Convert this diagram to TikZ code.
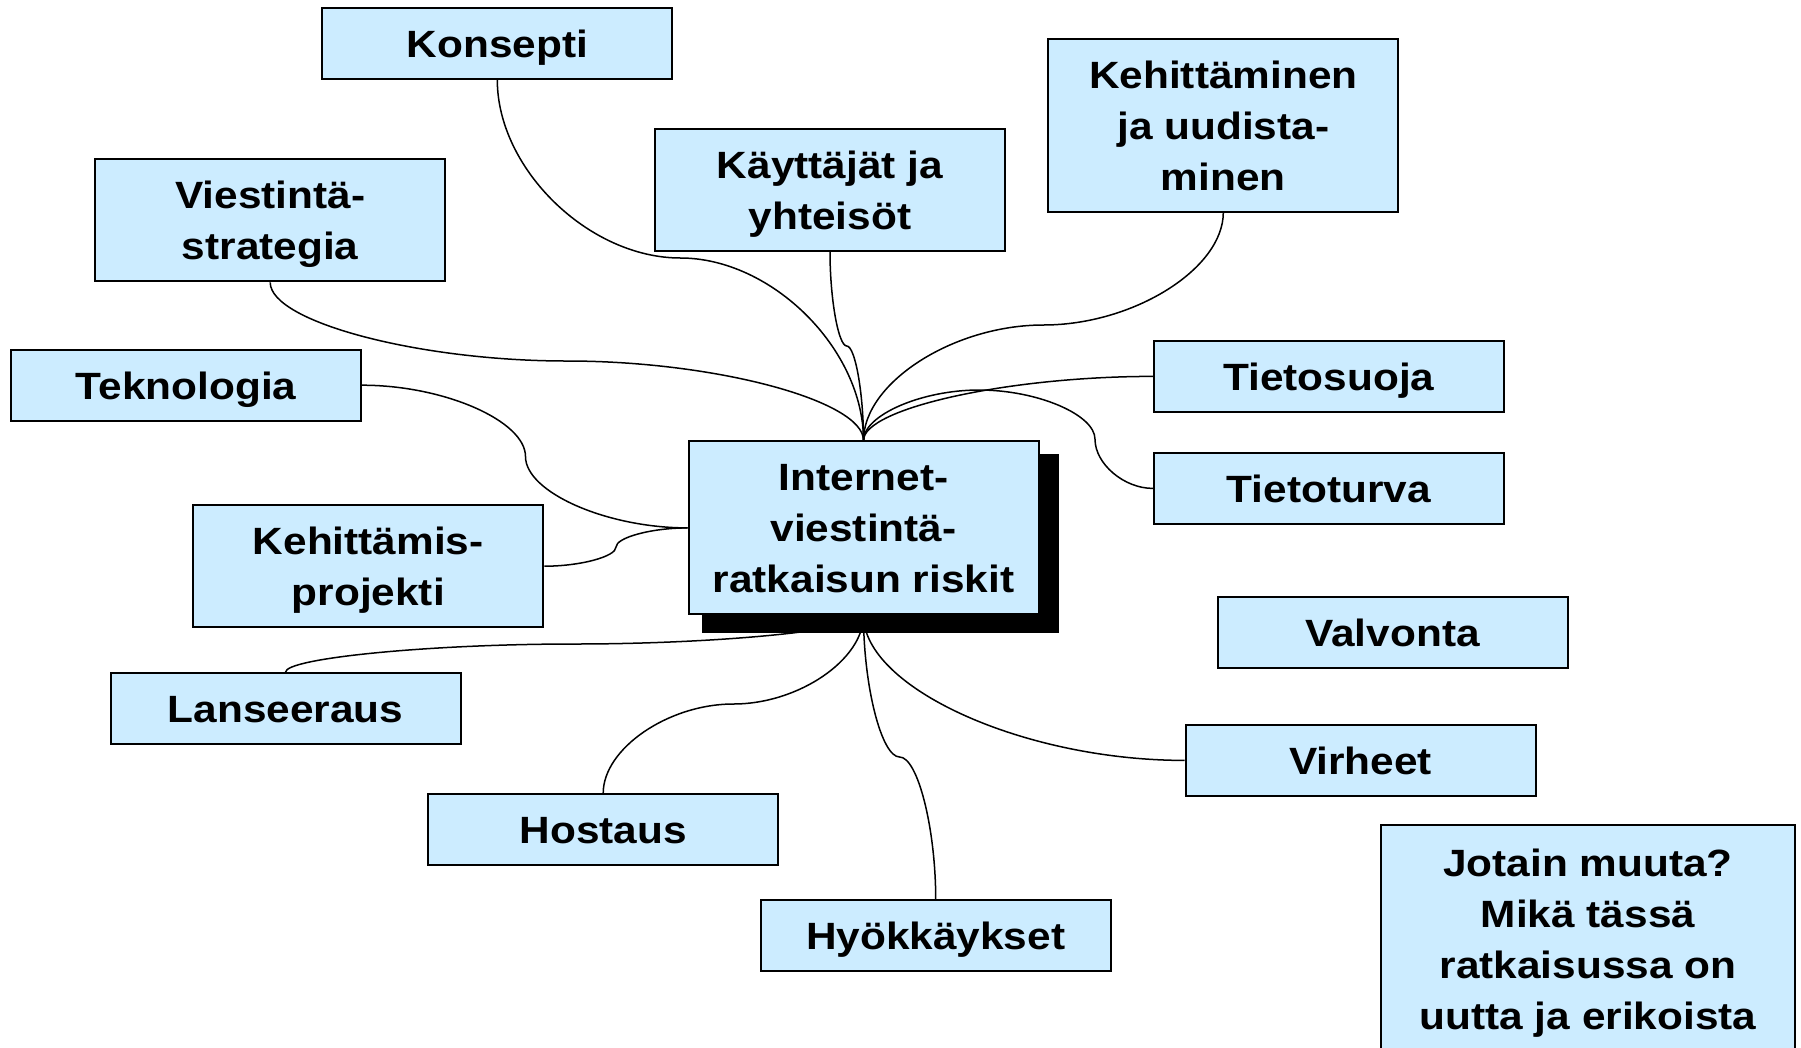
\documentclass[tikz,border=0pt]{standalone}
\usepackage{fontspec}
\setmainfont{Liberation Sans}[FakeStretch=1.115]
\usetikzlibrary{calc}
\pgfdeclarelayer{back}
\pgfdeclarelayer{shadowlayer}
\pgfsetlayers{back,shadowlayer,main}
\definecolor{boxblue}{HTML}{CCECFF}
\newcommand\ls{\rule[-11.5pt]{0pt}{51pt}}
% centred lines with a fixed 51pt baseline distance
\newcommand\ml[1]{\vbox{\baselineskip=51pt\lineskip=0pt\lineskiplimit=-100pt
  \halign{\hfil##\hfil\cr\ls#1\ls\crcr}}}
\tikzset{
  box/.style={draw=black, line width=2pt, fill=boxblue, minimum width=350pt,
    minimum height=71pt, inner sep=0pt,
    font=\bfseries\fontsize{38}{51}\selectfont,
    execute at begin node=\ls},
  twoline/.style={minimum height=122pt},
  threeline/.style={minimum height=173pt},
  conn/.style={draw=black, line width=1.5pt},
}
% vertical start, horizontal middle at y=#3, vertical end
\newcommand\vconn[3]{%
  \draw[conn] let \p1=(#1), \p2=(#2), \p3=(0,#3) in
    (\p1) .. controls (\x1,{0.5*(\y1+\y3)}) and ({\x1+0.25*(\x2-\x1)},\y3) .. ({0.5*(\x1+\x2)},\y3)
          .. controls ({\x1+0.75*(\x2-\x1)},\y3) and (\x2,{0.5*(\y3+\y2)}) .. (\p2);}
% horizontal start, vertical middle at x=#3, horizontal end
\newcommand\hconn[3]{%
  \draw[conn] let \p1=(#1), \p2=(#2), \p3=(#3,0) in
    (\p1) .. controls ({0.5*(\x1+\x3)},\y1) and (\x3,{\y1+0.25*(\y2-\y1)}) .. (\x3,{0.5*(\y1+\y2)})
          .. controls (\x3,{\y1+0.75*(\y2-\y1)}) and ({0.5*(\x3+\x2)},\y2) .. (\p2);}
% vertical start, horizontal end
\newcommand\vhconn[2]{%
  \draw[conn] let \p1=(#1), \p2=(#2) in
    (\p1) .. controls (\x1,{0.5*(\y1+\y2)}) and ({0.5*(\x1+\x2)},\y2) .. (\p2);}
% horizontal start, vertical end
\newcommand\hvconn[2]{%
  \draw[conn] let \p1=(#1), \p2=(#2) in
    (\p1) .. controls ({0.5*(\x1+\x2)},\y1) and (\x2,{0.5*(\y1+\y2)}) .. (\p2);}
\begin{document}
\begin{tikzpicture}[x=1pt, y=-1pt]
\path[use as bounding box, clip] (0,0) rectangle (1801,1047);

\path
  (497.3,43.4)  node[box] (kon) {Konsepti}
  (830,190)     node[box,twoline] (kay) {\ml{Käyttäjät ja\cr yhteisöt}}
  (1223.3,125)  node[box,threeline] (keh) {\ml{Kehittäminen\cr ja uudista-\cr minen}}
  (270.2,220.4) node[box,twoline] (vie) {\ml{Viestintä-\cr strategia}}
  (186.2,385.2) node[box] (tek) {Teknologia}
  (1328.8,376.4) node[box] (tsu) {Tietosuoja}
  (1328.8,488.4) node[box] (ttu) {Tietoturva}
  (863.5,527.9) node[box,threeline] (ctr) {\ml{Internet-\cr viestintä-\cr ratkaisun riskit}}
  (368.3,566.2) node[box,twoline] (kpr) {\ml{Kehittämis-\cr projekti}}
  (1392.6,632)  node[box] (val) {Valvonta}
  (285.5,708.7) node[box] (lan) {Lanseeraus}
  (1360.5,760.4) node[box] (vir) {Virheet}
  (603.2,829.7) node[box] (hos) {Hostaus}
  (935.7,935.7) node[box] (hyo) {Hyökkäykset}
  (1588,938.5)  node[box, minimum width=414pt, minimum height=227pt] (muu)
     {\ml{Jotain muuta?\cr Mikä tässä\cr ratkaisussa on\cr uutta ja erikoista}};

\begin{pgfonlayer}{shadowlayer}
\fill[black] ([shift={(14,14)}]ctr.north west) rectangle ([shift={(19,18)}]ctr.south east);
\end{pgfonlayer}

\begin{pgfonlayer}{back}
\fill[white] (0,0) rectangle (1801,1047);
\vconn{kon.south}{ctr.north}{258}
\vconn{kay.south}{ctr.north}{346}
\vconn{keh.south}{ctr.north}{325}
\vconn{vie.south}{ctr.north}{361}
\hconn{tek.east}{ctr.west}{525.5}
\hconn{kpr.east}{ctr.west}{616}
\vconn{lan.north}{ctr.south}{644}
\vconn{hos.north}{ctr.south}{704}
\vconn{hyo.north}{ctr.south}{757}
\vhconn{ctr.south}{vir.west}
\hvconn{tsu.west}{ctr.north}
\draw[conn] let \p1=(ttu.west), \p2=(ctr.north), \p3=(1095,390) in
  (\p1) .. controls ({0.5*(\x1+\x3)},\y1) and (\x3,{0.75*\y1+0.25*\y3}) .. (\x3,{0.5*(\y1+\y3)})
        .. controls (\x3,{0.25*\y1+0.75*\y3}) and ({0.75*\x3+0.25*\x2},\y3) .. ({0.5*(\x3+\x2)},\y3)
        .. controls ({0.25*\x3+0.75*\x2},\y3) and (\x2,{0.5*(\y3+\y2)}) .. (\p2);
\end{pgfonlayer}
\end{tikzpicture}
\end{document}
